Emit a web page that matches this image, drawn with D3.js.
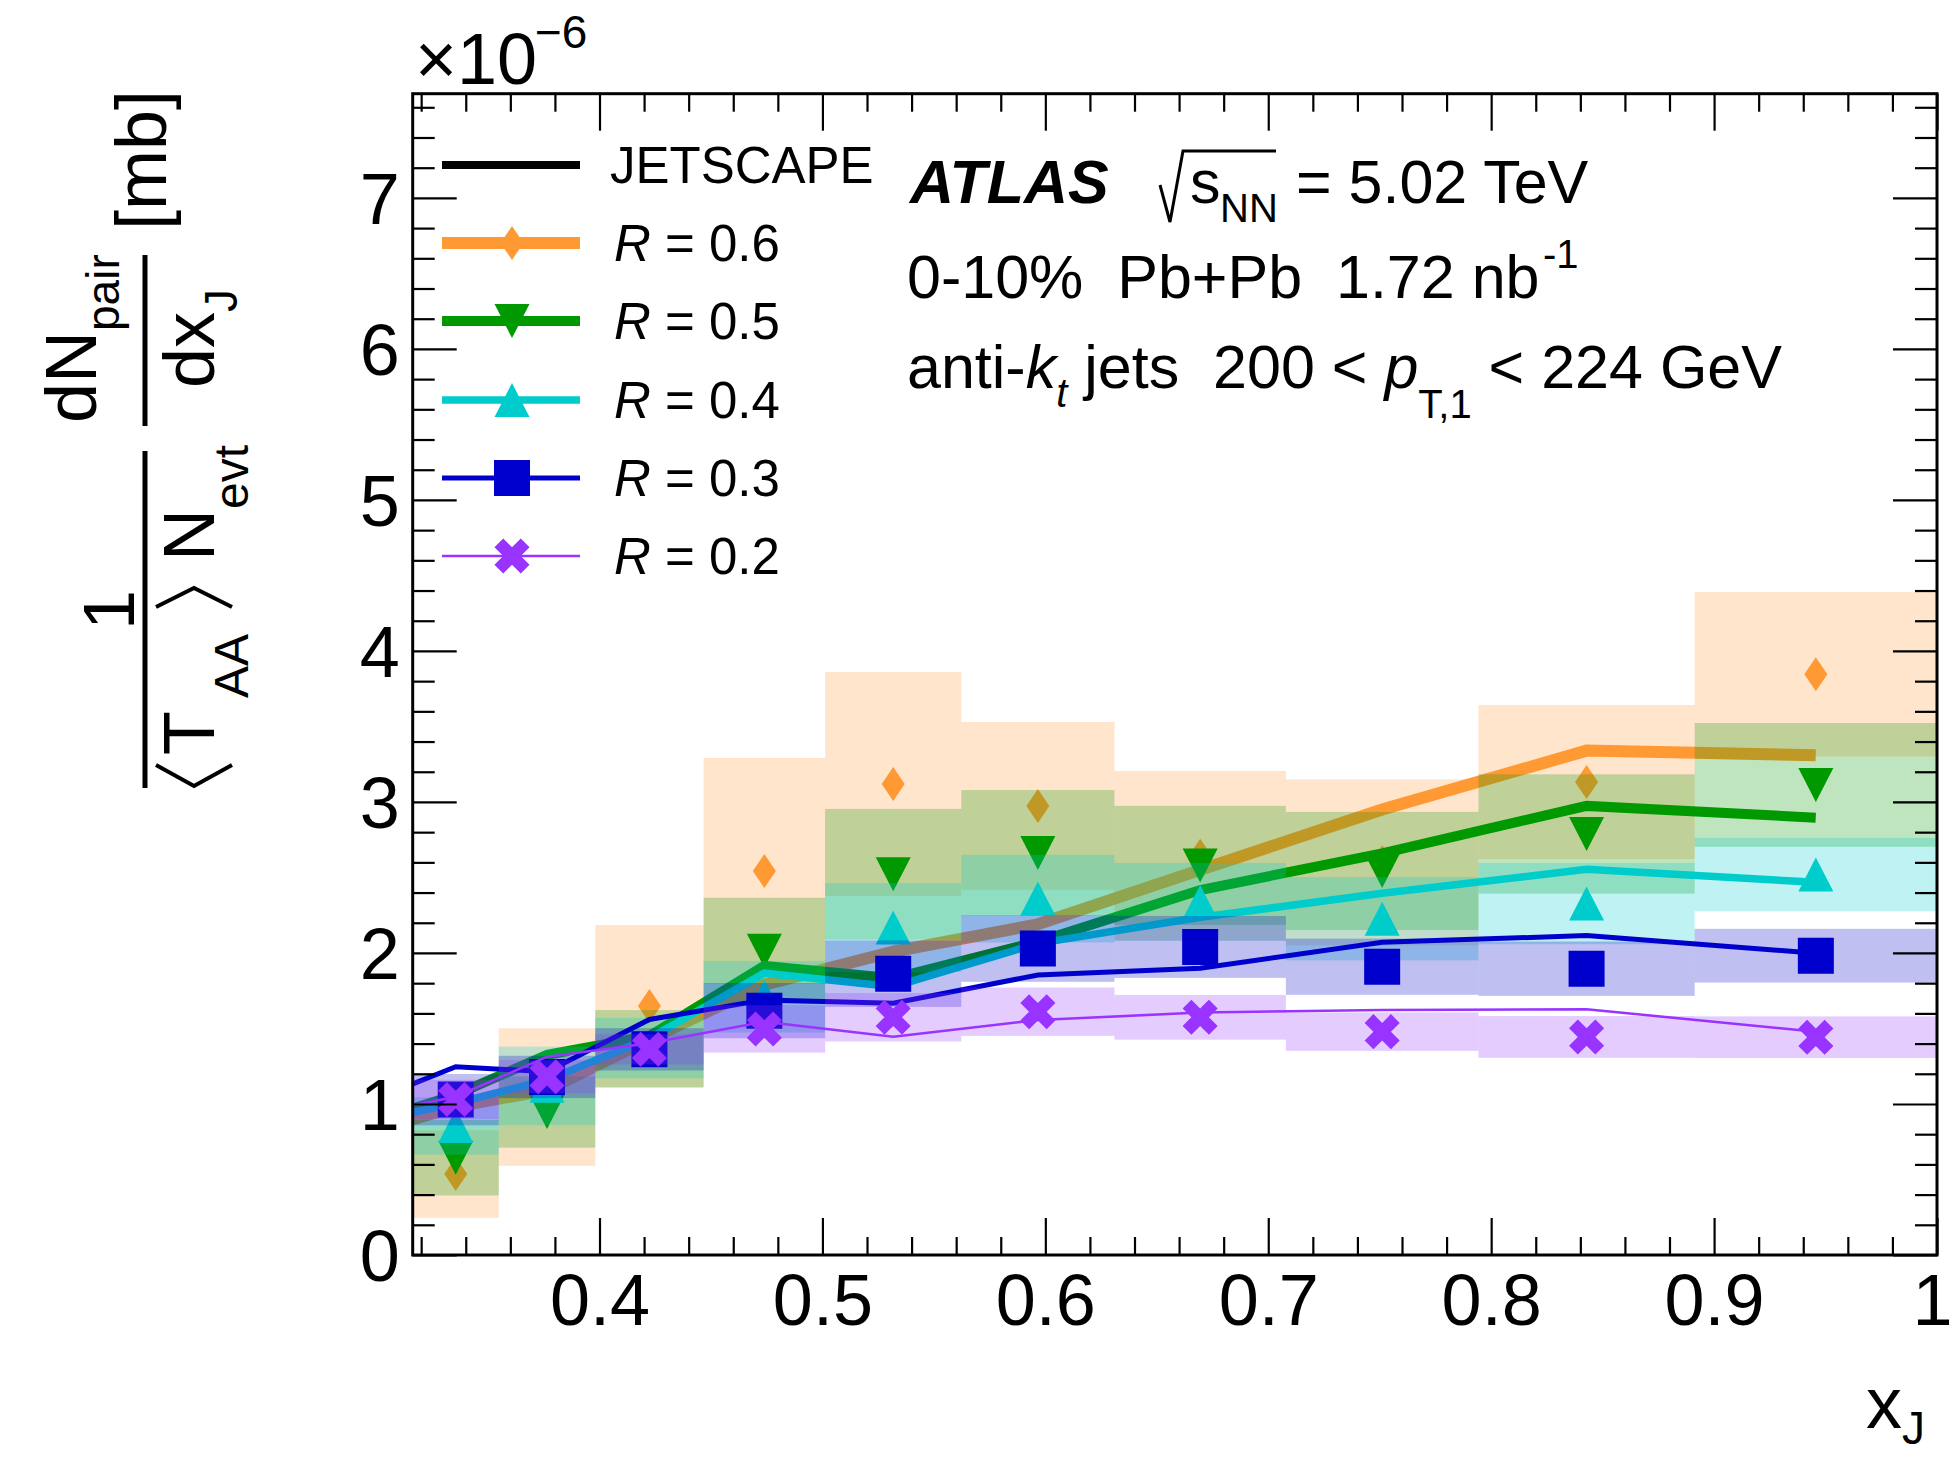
<!DOCTYPE html>
<meta charset="utf-8">
<style>
body { margin: 0; background: #fff; }
svg text { font-family: "Liberation Sans", Arial, Helvetica, sans-serif; fill: #000; white-space: pre; }
</style>
<svg width="1953" height="1461"></svg>
<script src="https://d3js.org/d3.v7.min.js"></script>
<script>

// xJ bin edges (log binning)
var binEdges = [0.3162, 0.3548, 0.3981, 0.4467, 0.5012, 0.5623, 0.6310, 0.7079, 0.7943, 0.8913, 1.0];

// measured values, units of 1e-6 mb
var r06 = [0.536, 1.046, 1.649, 2.543, 3.119, 2.974, 2.644, 2.600, 3.132, 3.846];
var r06Sys = [0.29, 0.455, 0.536, 0.748, 0.742, 0.556, 0.561, 0.55, 0.51, 0.545];
var r05 = [0.644, 0.947, 1.365, 2.015, 2.521, 2.662, 2.580, 2.543, 2.788, 3.113];
var r05Sys = [0.25, 0.236, 0.257, 0.351, 0.433, 0.417, 0.394, 0.391, 0.395, 0.41];
var r04 = [0.855, 1.120, 1.370, 1.710, 2.168, 2.360, 2.338, 2.227, 2.327, 2.519];
var r04Sys = [0.19, 0.26, 0.2, 0.237, 0.294, 0.29, 0.258, 0.276, 0.269, 0.243];
var r03 = [1.029, 1.179, 1.362, 1.618, 1.863, 2.029, 2.040, 1.909, 1.896, 1.982];
var r03Sys = [0.17, 0.14, 0.14, 0.183, 0.22, 0.22, 0.205, 0.186, 0.18, 0.178];
var r02 = [1.030, 1.180, 1.362, 1.497, 1.574, 1.611, 1.574, 1.479, 1.444, 1.442];
var r02Sys = [0.13, 0.11, 0.1, 0.157, 0.16, 0.16, 0.148, 0.127, 0.138, 0.138];

// JETSCAPE curves
var jetX = [0.2985, 0.3355, 0.3765, 0.4224, 0.4739, 0.5318, 0.5967, 0.6695, 0.7511, 0.8428, 0.9456];
var jet06 = [0.823, 0.982, 1.093, 1.43, 1.79, 2.009, 2.19, 2.55, 2.95, 3.34, 3.309];
var jet05 = [0.888, 1.06, 1.325, 1.45, 1.915, 1.832, 2.075, 2.417, 2.66, 2.974, 2.896];
var jet04 = [0.888, 1.005, 1.159, 1.435, 1.866, 1.777, 2.064, 2.236, 2.395, 2.554, 2.468];
var jet03 = [1.028, 1.247, 1.214, 1.56, 1.689, 1.667, 1.854, 1.899, 2.071, 2.115, 1.998];
var jet02 = [0.938, 1.048, 1.313, 1.402, 1.545, 1.446, 1.556, 1.605, 1.623, 1.627, 1.479];

var xMajor = [0.4, 0.5, 0.6, 0.7, 0.8, 0.9, 1.0];
var yMajor = [0, 1, 2, 3, 4, 5, 6, 7];

var svg = d3.select("svg");
var frameL = 412.7, frameR = 1937, frameT = 93.7, frameB = 1255;

var x = d3.scaleLinear().domain([0.3162, 1.0]).range([frameL, frameR]);
var y = d3.scaleLinear().domain([0, 7.69]).range([frameB, frameT]);

var centers = binEdges.slice(0, -1).map((e, i) => (e + binEdges[i + 1]) / 2);

var markers = {
  diamond: "M0,-17L11.5,0L0,17L-11.5,0Z",
  triDown: "M-17.5,-17L17.5,-17L0,17Z",
  triUp: "M0,-17L17.5,17L-17.5,17Z",
  square: d3.symbol(d3.symbolSquare, 1296)(),
  cross: d3.symbol(d3.symbolCross, 769)()
};

var series = [
  {label: "0.6", color: "#ff9933", vals: r06, sys: r06Sys, jet: jet06, lw: 12, marker: "diamond"},
  {label: "0.5", color: "#009900", vals: r05, sys: r05Sys, jet: jet05, lw: 10, marker: "triDown"},
  {label: "0.4", color: "#00cccc", vals: r04, sys: r04Sys, jet: jet04, lw: 7.5, marker: "triUp"},
  {label: "0.3", color: "#0000cc", vals: r03, sys: r03Sys, jet: jet03, lw: 5, marker: "square"},
  {label: "0.2", color: "#9933ff", vals: r02, sys: r02Sys, jet: jet02, lw: 2.5, marker: "cross"}
];

svg.append("rect").attr("width", 1953).attr("height", 1461).attr("fill", "#fff");

svg.append("clipPath").attr("id", "plot")
  .append("rect").attr("x", frameL).attr("y", frameT)
  .attr("width", frameR - frameL).attr("height", frameB - frameT);

var plot = svg.append("g").attr("clip-path", "url(#plot)");

function markerTransform(px, py, s) {
  return "translate(" + px + "," + py + ")" + (s.marker == "cross" ? " rotate(45)" : "");
}

series.forEach(s => {
  var g = plot.append("g");
  // systematic boxes
  g.selectAll("rect")
    .data(s.vals)
    .enter().append("rect")
      .attr("x", (d, i) => x(binEdges[i]))
      .attr("width", (d, i) => x(binEdges[i + 1]) - x(binEdges[i]))
      .attr("y", (d, i) => y(d + s.sys[i]))
      .attr("height", (d, i) => y(d - s.sys[i]) - y(d + s.sys[i]))
      .attr("fill", s.color)
      .attr("fill-opacity", 0.25);

  // JETSCAPE curve
  g.append("path")
    .datum(s.jet)
    .attr("fill", "none")
    .attr("stroke", s.color)
    .attr("stroke-width", s.lw)
    .attr("d", d3.line().x((d, i) => x(jetX[i])).y(d => y(d)));

  // data points
  g.selectAll("path.pt")
    .data(s.vals)
    .enter().append("path")
      .attr("class", "pt")
      .attr("d", markers[s.marker])
      .attr("fill", s.color)
      .attr("transform", (d, i) => markerTransform(x(centers[i]), y(d), s));
});

// axes
var xMinor = d3.range(0.32, 1.0001, 0.02).filter(v => xMajor.every(m => Math.abs(m - v) > 1e-6));
var yMinor = d3.range(0, 7.69, 0.2).filter(v => yMajor.every(m => Math.abs(m - v) > 1e-6));

function styleAxis(g) {
  g.select(".domain").remove();
  g.selectAll("line").attr("stroke", "#000").attr("stroke-width", 2.2);
  g.selectAll("text").attr("font-size", 72).attr("fill", "#000")
    .attr("font-family", '"Liberation Sans", Arial, Helvetica, sans-serif');
}

svg.append("g").attr("transform", "translate(0," + frameB + ")")
  .call(d3.axisBottom(x).tickValues(xMajor).tickSizeInner(-37).tickSizeOuter(0).tickPadding(19)
    .tickFormat(d => d == 1 ? "1" : d3.format(".1f")(d)))
  .call(styleAxis)
  .selectAll("text").attr("dx", d => d == 1 ? -5 : 0);
svg.append("g").attr("transform", "translate(0," + frameB + ")")
  .call(d3.axisBottom(x).tickValues(xMinor).tickSizeInner(-18).tickSizeOuter(0).tickFormat(""))
  .call(styleAxis);
svg.append("g").attr("transform", "translate(0," + frameT + ")")
  .call(d3.axisTop(x).tickValues(xMajor).tickSizeInner(-37).tickSizeOuter(0).tickFormat(""))
  .call(styleAxis);
svg.append("g").attr("transform", "translate(0," + frameT + ")")
  .call(d3.axisTop(x).tickValues(xMinor).tickSizeInner(-18).tickSizeOuter(0).tickFormat(""))
  .call(styleAxis);

svg.append("g").attr("transform", "translate(" + frameL + ",0)")
  .call(d3.axisLeft(y).tickValues(yMajor).tickSizeInner(-44).tickSizeOuter(0).tickPadding(13))
  .call(styleAxis)
  .selectAll("text").attr("dy", "0.36em");
svg.append("g").attr("transform", "translate(" + frameL + ",0)")
  .call(d3.axisLeft(y).tickValues(yMinor).tickSizeInner(-22).tickSizeOuter(0).tickFormat(""))
  .call(styleAxis);
svg.append("g").attr("transform", "translate(" + frameR + ",0)")
  .call(d3.axisRight(y).tickValues(yMajor).tickSizeInner(-44).tickSizeOuter(0).tickFormat(""))
  .call(styleAxis);
svg.append("g").attr("transform", "translate(" + frameR + ",0)")
  .call(d3.axisRight(y).tickValues(yMinor).tickSizeInner(-22).tickSizeOuter(0).tickFormat(""))
  .call(styleAxis);

svg.append("rect")
  .attr("x", frameL).attr("y", frameT)
  .attr("width", frameR - frameL).attr("height", frameB - frameT)
  .attr("fill", "none").attr("stroke", "#000").attr("stroke-width", 3);

// x10^-6 exponent
svg.append("text").attr("x", 415).attr("y", 84).attr("font-size", 72).text("\u00d710");
svg.append("text").attr("x", 535).attr("y", 48).attr("font-size", 46).text("\u22126");

// x axis title
var xt = svg.append("text").attr("x", 1866).attr("y", 1428).attr("font-size", 72);
xt.append("tspan").text("x");
xt.append("tspan").attr("font-size", 46).attr("dy", 16).text("J");

// y axis title, rotated
var yt = svg.append("g").attr("transform", "translate(145,0) rotate(-90)");
yt.append("text").attr("x", -610).attr("y", -11).attr("font-size", 72).attr("text-anchor", "middle").text("1");
yt.append("line").attr("x1", -788).attr("x2", -451).attr("stroke", "#000").attr("stroke-width", 5);
yt.append("text").attr("x", -755).attr("y", 69).attr("font-size", 72).text("T");
yt.append("text").attr("x", -698).attr("y", 103).attr("font-size", 48).text("AA");
yt.append("text").attr("x", -561).attr("y", 69).attr("font-size", 72).text("N");
yt.append("text").attr("x", -509).attr("y", 103).attr("font-size", 48).text("evt");
yt.append("path").attr("d", "M-765,11L-786,49L-765,87").attr("fill", "none").attr("stroke", "#000").attr("stroke-width", 4);
yt.append("path").attr("d", "M-607,11L-588,49L-607,87").attr("fill", "none").attr("stroke", "#000").attr("stroke-width", 4);
yt.append("line").attr("x1", -426).attr("x2", -255).attr("stroke", "#000").attr("stroke-width", 5);
yt.append("text").attr("x", -423).attr("y", -49).attr("font-size", 72).text("dN");
yt.append("text").attr("x", -331).attr("y", -26).attr("font-size", 46).text("pair");
yt.append("text").attr("x", -388).attr("y", 69).attr("font-size", 72).text("dx");
yt.append("text").attr("x", -312).attr("y", 92).attr("font-size", 46).text("J");
yt.append("text").attr("x", -230).attr("y", 21).attr("font-size", 72).text("[mb]");

// legend
var legY = [165, 243, 321, 400, 478, 556];
var leg = svg.append("g");
leg.append("line").attr("x1", 442).attr("x2", 580).attr("y1", legY[0]).attr("y2", legY[0])
  .attr("stroke", "#000").attr("stroke-width", 8);
leg.append("text").attr("x", 610).attr("y", legY[0] + 18).attr("font-size", 51).text("JETSCAPE");
series.forEach((s, i) => {
  var ly = legY[i + 1];
  leg.append("line").attr("x1", 442).attr("x2", 580).attr("y1", ly).attr("y2", ly)
    .attr("stroke", s.color).attr("stroke-width", s.lw);
  leg.append("path").attr("d", markers[s.marker]).attr("fill", s.color)
    .attr("transform", markerTransform(512, ly, s));
  var t = leg.append("text").attr("x", 614).attr("y", ly + 18).attr("font-size", 51);
  t.append("tspan").attr("font-style", "italic").text("R");
  t.append("tspan").text(" = " + s.label);
});

// labels
svg.append("text").attr("x", 910).attr("y", 203).attr("font-size", 61)
  .attr("font-weight", "bold").attr("font-style", "italic").text("ATLAS");
svg.append("path").attr("d", "M1160,185L1170,222L1183,151L1276,151")
  .attr("fill", "none").attr("stroke", "#000").attr("stroke-width", 3);
svg.append("text").attr("x", 1190).attr("y", 203).attr("font-size", 61).text("s");
svg.append("text").attr("x", 1220).attr("y", 222).attr("font-size", 40).text("NN");
svg.append("text").attr("x", 1296).attr("y", 203).attr("font-size", 61).text("= 5.02 TeV");

svg.append("text").attr("x", 907).attr("y", 298).attr("font-size", 61).text("0-10%  Pb+Pb  1.72 nb");
svg.append("text").attr("x", 1543).attr("y", 268).attr("font-size", 40).text("-1");

var t3 = svg.append("text").attr("x", 907).attr("y", 388).attr("font-size", 61);
t3.append("tspan").text("anti-");
t3.append("tspan").attr("font-style", "italic").text("k");
t3.append("tspan").attr("font-style", "italic").attr("font-size", 40).attr("dy", 19).text("t");
t3.append("tspan").attr("dy", -19).text(" jets  200 < ");
t3.append("tspan").attr("font-style", "italic").text("p");
t3.append("tspan").attr("font-size", 40).attr("dy", 30).text("T,1");
t3.append("tspan").attr("dy", -30).text(" < 224 GeV");

</script>
